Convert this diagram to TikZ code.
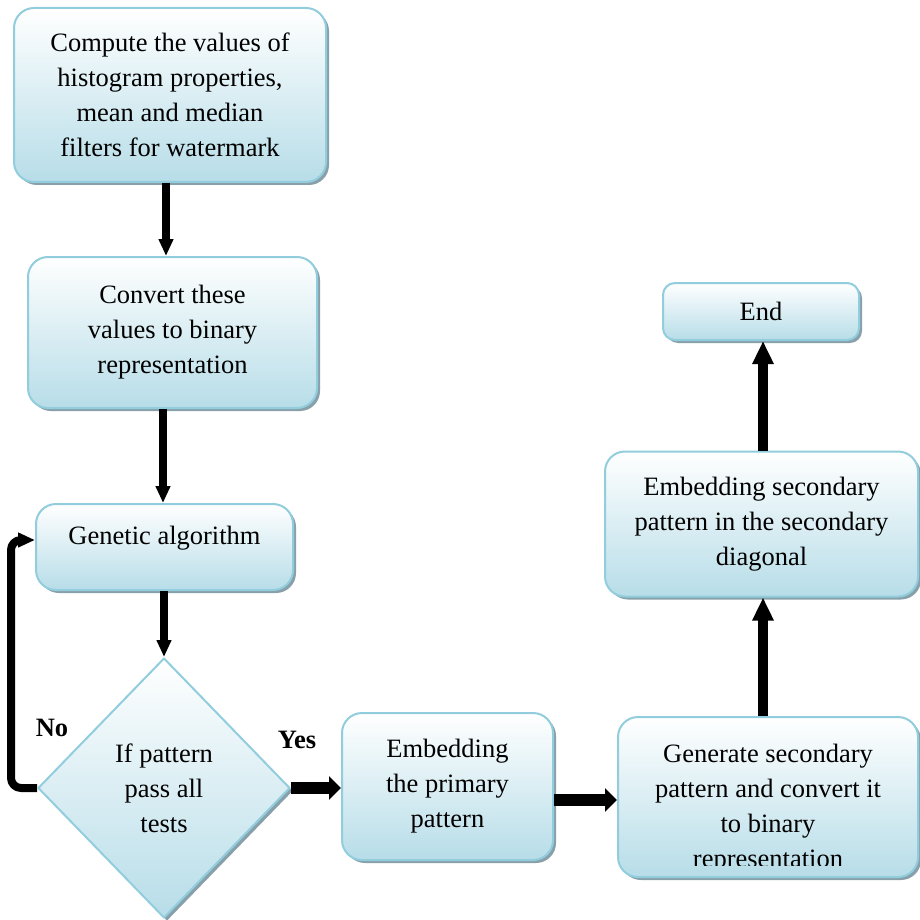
\documentclass[tikz,border=0pt]{standalone}
\usepackage{fontspec}
\setmainfont{Liberation Serif}
\usetikzlibrary{shapes.geometric,arrows.meta,shadows}
\definecolor{boxblue}{RGB}{183,221,232}
\definecolor{boxline}{RGB}{146,205,222}
\definecolor{boxshade}{RGB}{135,160,170}

\begin{document}
\begin{tikzpicture}[x=1pt,y=-1pt,line join=round,
	font=\fontsize{26.5}{35}\selectfont,
	stepbox/.style={draw=boxline,line width=2pt,rounded corners=20pt,top color=white,bottom color=boxblue,align=center,inner sep=0pt,
		drop shadow={shadow xshift=3pt,shadow yshift=-3pt,fill=boxshade,opacity=1}},
	testbox/.style={diamond,draw=boxline,line width=2pt,top color=white,bottom color=boxblue,align=center,inner sep=0pt,
		drop shadow={shadow xshift=3pt,shadow yshift=-3pt,fill=boxshade,opacity=1}},
	flowv/.style={line width=8pt,-{Triangle[length=17pt,width=14pt]}},
	flowh/.style={line width=12pt,-{Triangle[length=12pt,width=23pt]}},
	flowup/.style={line width=10pt,-{Triangle[length=23pt,width=20pt]}}]
	\useasboundingbox (0,0) rectangle (920,920);
	% left column
	\node[stepbox,minimum width=312pt,minimum height=174pt] (comp) at (170,95) {Compute the values of\\histogram properties,\\mean and median\\filters for watermark};
	\node[stepbox,minimum width=289pt,minimum height=151pt] (conv) at (172.5,332.5) {Convert these\\values to binary\\representation};
	\node[stepbox,minimum width=257pt,minimum height=86pt] (gen) at (164.5,547) {\raisebox{24pt}{Genetic algorithm}};
	\node[testbox,minimum width=252pt,minimum height=260pt] (dia) at (164,788) {If pattern\\pass all\\tests};
	\node[font=\fontsize{26.5}{35}\selectfont\bfseries] (no) at (52,728) {No};
	\node[font=\fontsize{26.5}{35}\selectfont\bfseries] (yes) at (297,740) {Yes};
	% bottom row and right column
	\node[stepbox,minimum width=211pt,minimum height=147pt] (prim) at (447.5,786.5) {Embedding\\the primary\\pattern};
	\node[stepbox,minimum width=300pt,minimum height=160pt] (gener) at (768,797) {};
	\begin{scope}
		\clip (gener.north west) rectangle (gener.east |- 0,865);
		\node[align=center] (genertxt) at (768,809) {Generate secondary\\pattern and convert it\\to binary\\representation};
	\end{scope}
	\node[stepbox,minimum width=313pt,minimum height=145pt] (sec) at (761.5,524) {Embedding secondary\\pattern in the secondary\\diagonal};
	\node[stepbox,rounded corners=12pt,minimum width=196pt,minimum height=57pt] (endb) at (761,311.5) {End};
	% arrows
	\draw[flowv] (comp.south -| 166,0) -- (conv.north -| 166,0);
	\draw[flowv] (conv.south -| 163,0) -- (gen.north -| 163,0);
	\draw[flowv] (gen.south -| dia.north) -- (dia.north);
	\draw[flowv,rounded corners=10pt] (dia.west) -- (11,788) |- ([yshift=7pt]gen.west);
	\draw[flowh] (dia.east) -- (prim.west |- dia.east);
	\draw[flowh] (prim.east |- 0,800) -- (gener.west |- 0,800);
	\draw[flowup] (gener.north -| 763,0) -- (sec.south -| 763,0);
	\draw[flowup] (sec.north -| 763,0) -- (endb.south -| 763,0);
\end{tikzpicture}
\end{document}
